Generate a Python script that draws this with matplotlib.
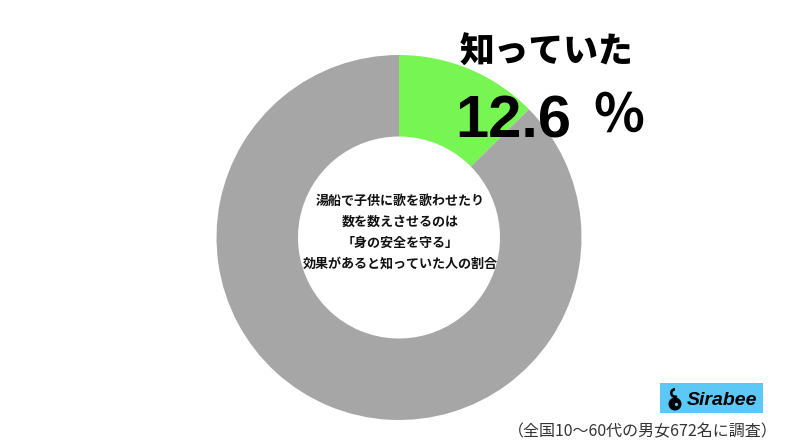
import matplotlib
matplotlib.use('Agg')
import matplotlib.pyplot as plt
from matplotlib.patches import Circle, Rectangle, Wedge

# data
labels = ['知っていた', 'その他']
values = [12.6, 87.4]
colors = ['#77F552', '#A6A6A6']
headline = '知っていた'
pct_text = '12.6'
center_lines = ['湯船で子供に歌を歌わせたり', '数を数えさせるのは', '「身の安全を守る」', '効果があると知っていた人の割合']
note = '（全国10〜60代の男女672名に調査）'

W, H = 800, 448
cjk = ['Noto Sans CJK JP', 'DejaVu Sans']

def Y(y):
    return H - y

fig = plt.figure(figsize=(W / 100, H / 100), dpi=100)
fig.patch.set_facecolor('white')
ax = fig.add_axes([0, 0, 1, 1])

ax.pie(values, colors=colors, startangle=90, counterclock=False,
       center=(399, Y(237.5)), radius=182.5,
       wedgeprops=dict(width=81.5, linewidth=0))
ax.set_xlim(0, W)
ax.set_ylim(0, H)
ax.set_aspect('equal')
ax.axis('off')

# centre caption
ax.text(400, Y(232.5), '\n'.join(center_lines), ha='center', va='center',
        fontsize=9.4, fontweight='bold', family=cjk, linespacing=1.62, color='#111111')

# headline
ax.text(547, Y(52), headline, ha='center', va='center', fontsize=25,
        fontweight='black', family=cjk, color='black')
ax.text(455, Y(137), pct_text, ha='left', va='baseline', fontsize=43,
        fontweight='bold', family='Liberation Sans', color='black')
ax.text(619, Y(116), '％', ha='center', va='center', fontsize=38,
        fontweight='bold', family=cjk, color='black')

# footnote
ax.text(778, Y(432), note, ha='right', va='center', fontsize=11.5,
        family=cjk, color='#333333')

# logo
ax.add_patch(Rectangle((660, Y(413)), 103, 30, facecolor='#5BC8F5', edgecolor='none'))
ax.add_patch(Circle((675, Y(404)), 6.5, facecolor='black', edgecolor='none'))
ax.add_patch(Wedge((675, Y(393)), 5, 90, 300, width=2.6, facecolor='black', edgecolor='none'))
ax.add_patch(Circle((676.5, Y(404.5)), 1.6, facecolor='#5BC8F5', edgecolor='none'))
ax.text(687, Y(400), 'Sirabee', ha='left', va='center', fontsize=14,
        fontweight='bold', fontstyle='italic', family='Liberation Sans', color='black')

fig.savefig('out.png', dpi=100, facecolor='white')
